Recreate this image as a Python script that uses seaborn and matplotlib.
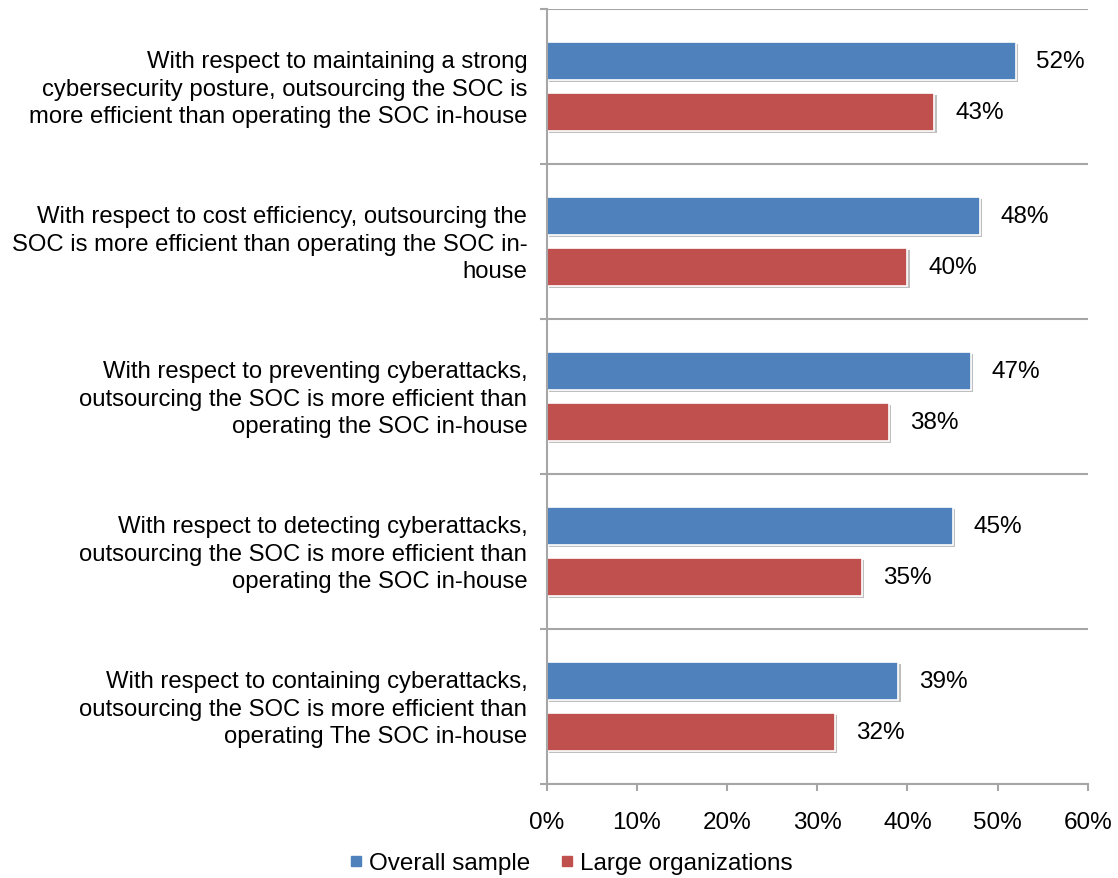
import matplotlib
matplotlib.use("Agg")
import matplotlib.pyplot as plt
import matplotlib.patheffects as pe
import matplotlib.transforms as mtransforms
from matplotlib.lines import Line2D
from matplotlib.ticker import FixedLocator, PercentFormatter
import pandas as pd
import seaborn as sns

statements = [
    "With respect to maintaining a strong\ncybersecurity posture, outsourcing the SOC is\nmore efficient than operating the SOC in-house",
    "With respect to cost efficiency, outsourcing the\nSOC is more efficient than operating the SOC in-\nhouse",
    "With respect to preventing cyberattacks,\noutsourcing the SOC is more efficient than\noperating the SOC in-house",
    "With respect to detecting cyberattacks,\noutsourcing the SOC is more efficient than\noperating the SOC in-house",
    "With respect to containing cyberattacks,\noutsourcing the SOC is more efficient than\noperating The SOC in-house",
]
series_names = ["Overall sample", "Large organizations"]
overall_sample = [52, 48, 47, 45, 39]
large_orgs = [43, 40, 38, 35, 32]
x_ticks = [0, 10, 20, 30, 40, 50, 60]

colors = ["#4F81BD", "#C0504D"]
grid_color = "#A6A6A6"

df = pd.DataFrame({
    "statement": statements * 2,
    "group": [series_names[0]] * len(statements) + [series_names[1]] * len(statements),
    "pct": overall_sample + large_orgs,
})

sns.set_theme(style="white")
plt.rcParams["font.family"] = ["Liberation Sans", "DejaVu Sans"]
plt.rcParams["text.color"] = "#000000"

fig = plt.figure(figsize=(11.18, 8.79), dpi=100)
ax = fig.add_axes([0.489, 0.107, 0.484, 0.8816])

sns.barplot(data=df, y="statement", x="pct", hue="group", order=statements,
            hue_order=series_names, palette=colors, orient="h", width=0.66,
            dodge=True, saturation=1, legend=False, errorbar=None, ax=ax,
            edgecolor="white", linewidth=1.2)

# thin the bars while keeping their centres, and give them a soft drop shadow
bar_h = 0.245
for container in ax.containers:
    for patch in container:
        cy = patch.get_y() + patch.get_height() / 2
        patch.set_height(bar_h)
        patch.set_y(cy - bar_h / 2)
        patch.set_path_effects([
            pe.SimplePatchShadow(offset=(1.5, -1.5), shadow_rgbFace="#000000", alpha=0.25),
            pe.Normal(),
        ])
    ax.bar_label(container, labels=[f"{v:.0f}%" for v in container.datavalues],
                 padding=15, fontsize=17.5, color="#000000")

n = len(statements)
ax.set_ylim(n - 0.5, -0.5)
ax.set_xlim(0, 60)

# category separators
bounds = [i - 0.5 for i in range(n + 1)]
ax.yaxis.set_minor_locator(FixedLocator(bounds))
ax.grid(False)
ax.grid(True, axis="y", which="minor", color=grid_color, linewidth=1.5)
ax.set_axisbelow(True)

ax.xaxis.set_major_locator(FixedLocator(x_ticks))
ax.xaxis.set_major_formatter(PercentFormatter(decimals=0))

ax.tick_params(axis="y", which="major", length=0, pad=14, labelsize=17.2, labelcolor="#000000")
# nudge the multi-line category labels up a little
nudge = mtransforms.ScaledTranslation(0, 3 / 100, fig.dpi_scale_trans)
for lbl in ax.get_yticklabels():
    lbl.set_linespacing(1.33)
    lbl.set_transform(lbl.get_transform() + nudge)
ax.tick_params(axis="y", which="minor", left=True, length=5, width=1.5, color=grid_color)
ax.tick_params(axis="x", which="major", bottom=True, length=5, width=1.5,
               color=grid_color, pad=14.5, labelsize=17.5, labelcolor="#000000")

for side in ("top", "right"):
    ax.spines[side].set_visible(False)
for side in ("left", "bottom"):
    ax.spines[side].set_color(grid_color)
    ax.spines[side].set_linewidth(1.5)

ax.set_xlabel("")
ax.set_ylabel("")

handles = [Line2D([], [], marker="s", linestyle="none", markersize=7,
                  markerfacecolor=c, markeredgecolor=c) for c in colors]
fig.legend(handles, series_names, loc="center", bbox_to_anchor=(0.511, 0.017),
           ncol=2, frameon=False, fontsize=17.5, handlelength=0.5, handletextpad=0.25,
           columnspacing=1.3)

fig.savefig("out.png", dpi=100, facecolor="white")
